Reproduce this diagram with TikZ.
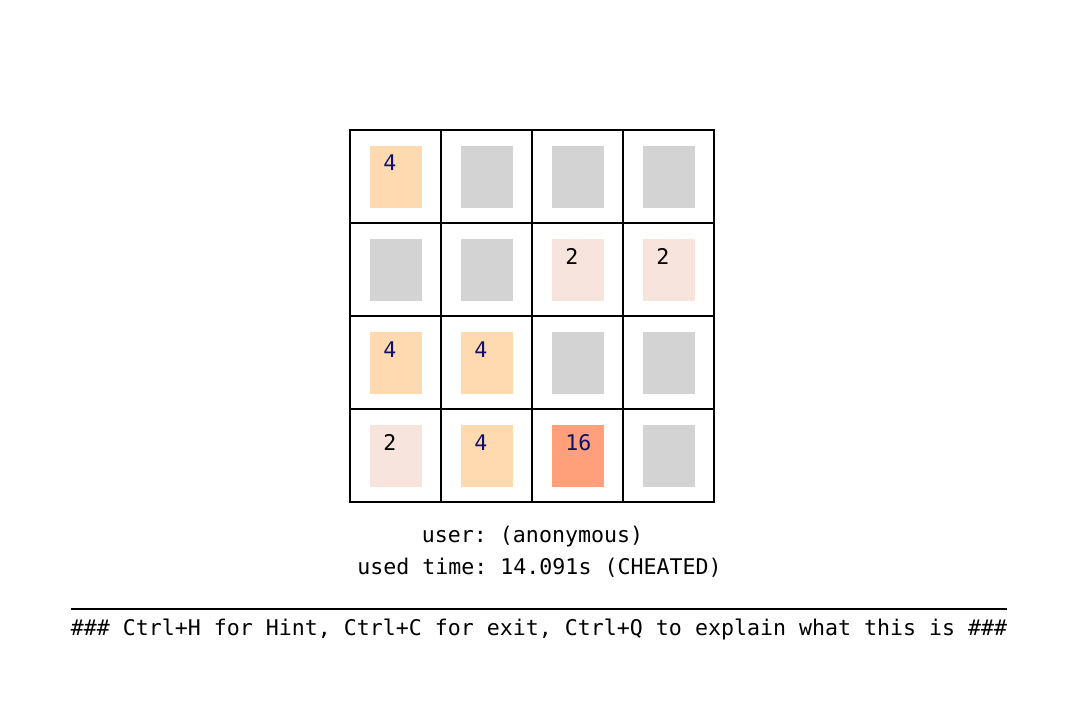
\documentclass[tikz,border=0pt]{standalone}
\usepackage{fontspec}
\setmonofont{DejaVu Sans Mono}
\definecolor{tilegray}{HTML}{D3D3D3}
\definecolor{tiletwo}{HTML}{F7E4DC}
\definecolor{tilefour}{HTML}{FFDAB0}
\definecolor{tilesixteen}{HTML}{FFA07A}
\definecolor{numblue}{HTML}{10106A}

\begin{document}
\begin{tikzpicture}[%
      x=0.75pt, y=-0.75pt,
      tile/.style={fill=#1},
      gridline/.style={line width=1.5pt, line cap=rect},
      num/.style={anchor=base west, inner sep=0pt, text=#1,
        font=\ttfamily\fontsize{16.2}{19}\selectfont},
      msg/.style={anchor=base, inner sep=0pt,
        font=\ttfamily\fontsize{16.2}{19}\selectfont},
      ]
      \useasboundingbox (0,0) rectangle (1080,720);

      \fill[tile=tilefour] (370,146) rectangle (422,208);
      \fill[tile=tilegray] (461,146) rectangle (513,208);
      \fill[tile=tilegray] (552,146) rectangle (604,208);
      \fill[tile=tilegray] (643,146) rectangle (695,208);
      \fill[tile=tilegray] (370,239) rectangle (422,301);
      \fill[tile=tilegray] (461,239) rectangle (513,301);
      \fill[tile=tiletwo] (552,239) rectangle (604,301);
      \fill[tile=tiletwo] (643,239) rectangle (695,301);
      \fill[tile=tilefour] (370,332) rectangle (422,394);
      \fill[tile=tilefour] (461,332) rectangle (513,394);
      \fill[tile=tilegray] (552,332) rectangle (604,394);
      \fill[tile=tilegray] (643,332) rectangle (695,394);
      \fill[tile=tiletwo] (370,425) rectangle (422,487);
      \fill[tile=tilefour] (461,425) rectangle (513,487);
      \fill[tile=tilesixteen] (552,425) rectangle (604,487);
      \fill[tile=tilegray] (643,425) rectangle (695,487);

      \draw[gridline] (350,130) -- (714,130);
      \draw[gridline] (350,223) -- (714,223);
      \draw[gridline] (350,316) -- (714,316);
      \draw[gridline] (350,409) -- (714,409);
      \draw[gridline] (350,502) -- (714,502);
      \draw[gridline] (350,130) -- (350,502);
      \draw[gridline] (441,130) -- (441,502);
      \draw[gridline] (532,130) -- (532,502);
      \draw[gridline] (623,130) -- (623,502);
      \draw[gridline] (714,130) -- (714,502);

      \node[num=numblue] (n11) at (383,171) {4};
      \node[num=black] (n23) at (565,264) {2};
      \node[num=black] (n24) at (656,264) {2};
      \node[num=numblue] (n31) at (383,357) {4};
      \node[num=numblue] (n32) at (474,357) {4};
      \node[num=black] (n41) at (383,450) {2};
      \node[num=numblue] (n42) at (474,450) {4};
      \node[num=numblue] (n43) at (565,450) {16};

      \node[msg] (user) at (532.5,542) {user: (anonymous)};
      \node[msg] (time) at (539.5,574) {used time: 14.091s (CHEATED)};
      \draw[line width=1pt] (71,609) -- (1007,609);
      \node[msg] (hint) at (539,635) {\#\#\# Ctrl+H for Hint, Ctrl+C for exit, Ctrl+Q to explain what this is \#\#\#};
\end{tikzpicture}
\end{document}
